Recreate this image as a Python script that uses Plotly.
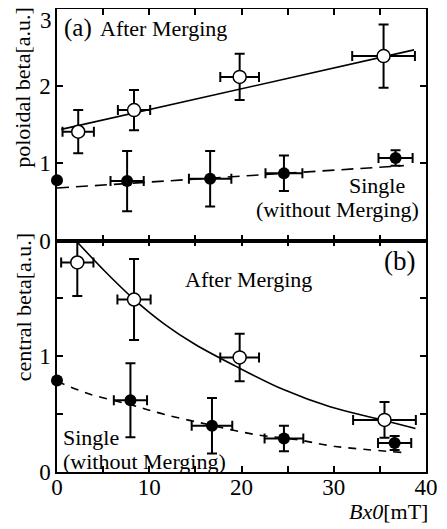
import plotly.graph_objects as go

# ---------------- Panel (a): poloidal beta ----------------
a_merge_x = [2.3, 8.35, 19.8, 35.4]
a_merge_y = [1.41, 1.69, 2.12, 2.39]
a_merge_xerr = [1.7, 1.75, 2.1, 3.4]
a_merge_yerr = [0.28, 0.26, 0.30, 0.41]

a_single_x = [0.0, 7.6, 16.6, 24.6, 36.7]
a_single_y = [0.78, 0.77, 0.80, 0.87, 1.07]
a_single_xerr = [0, 1.8, 2.3, 2.0, 1.85]
a_single_yerr = [0, 0.39, 0.36, 0.23, 0.10]

a_fit_merge_x = [0.46, 38.7]
a_fit_merge_y = [1.44, 2.47]
a_fit_single_x = [0.0, 37.6]
a_fit_single_y = [0.68, 0.97]

# ---------------- Panel (b): central beta ----------------
b_merge_x = [2.2, 8.35, 19.8, 35.5]
b_merge_y = [1.81, 1.49, 0.99, 0.45]
b_merge_xerr = [1.75, 1.8, 2.1, 3.4]
b_merge_yerr = [0.29, 0.35, 0.205, 0.155]

b_single_x = [0.0, 7.96, 16.8, 24.6, 36.6]
b_single_y = [0.79, 0.62, 0.40, 0.29, 0.25]
b_single_xerr = [0, 1.8, 2.2, 2.1, 1.8]
b_single_yerr = [0, 0.32, 0.24, 0.11, 0.06]

b_fit_merge_x = [2.03, 5.16, 8.35, 11.68, 14.95, 19.3, 24.55, 29.6, 35.05, 38.86]
b_fit_merge_y = [2.0, 1.737, 1.492, 1.276, 1.104, 0.917, 0.712, 0.563, 0.453, 0.376]
b_fit_single_x = [0, 3.35, 7.88, 11.68, 16.4, 21.47, 25.9, 30, 37.6]
b_fit_single_y = [0.784, 0.678, 0.583, 0.497, 0.41, 0.324, 0.281, 0.223, 0.168]

x_tickvals = [0, 5, 10, 15, 20, 25, 30, 35, 40]
x_ticktext = ["0", "", "10", "", "20", "", "30", "", "40"]
ya_tickvals = [0, 1, 2, 3]
ya_ticktext = ["0", "1", "2", ""]   # the top "3" is drawn as a nudged label below
ya_top_label = "3"
yb_tickvals = [0, 0.5, 1, 1.5, 2]
yb_ticktext = ["0", "", "1", "", ""]

FONT = "Liberation Serif"
BLACK = "black"

fig = go.Figure()

def err(arr, w=5):
    return dict(type="data", array=arr, visible=True, color=BLACK, thickness=2, width=w)

# fit lines
fig.add_trace(go.Scatter(x=a_fit_merge_x, y=a_fit_merge_y, mode="lines",
                         line=dict(color=BLACK, width=1.6), xaxis="x2", yaxis="y2"))
fig.add_trace(go.Scatter(x=a_fit_single_x, y=a_fit_single_y, mode="lines",
                         line=dict(color=BLACK, width=1.6, dash="12px,7px"), xaxis="x2", yaxis="y2"))
fig.add_trace(go.Scatter(x=b_fit_merge_x, y=b_fit_merge_y, mode="lines", line_shape="spline",
                         line=dict(color=BLACK, width=1.6), xaxis="x", yaxis="y"))
fig.add_trace(go.Scatter(x=b_fit_single_x, y=b_fit_single_y, mode="lines", line_shape="spline",
                         line=dict(color=BLACK, width=1.6, dash="8px,7px"), xaxis="x", yaxis="y"))

# points
fig.add_trace(go.Scatter(x=a_merge_x, y=a_merge_y, mode="markers",
                         error_x=err(a_merge_xerr), error_y=err(a_merge_yerr),
                         marker=dict(symbol="circle", size=13, color="white", line=dict(color=BLACK, width=1.5)),
                         xaxis="x2", yaxis="y2"))
fig.add_trace(go.Scatter(x=a_single_x, y=a_single_y, mode="markers",
                         error_x=err(a_single_xerr), error_y=err(a_single_yerr),
                         marker=dict(symbol="circle", size=12, color=BLACK),
                         xaxis="x2", yaxis="y2", cliponaxis=False))
fig.add_trace(go.Scatter(x=b_merge_x, y=b_merge_y, mode="markers",
                         error_x=err(b_merge_xerr), error_y=err(b_merge_yerr),
                         marker=dict(symbol="circle", size=13, color="white", line=dict(color=BLACK, width=1.5)),
                         xaxis="x", yaxis="y"))
fig.add_trace(go.Scatter(x=b_single_x, y=b_single_y, mode="markers",
                         error_x=err(b_single_xerr), error_y=err(b_single_yerr),
                         marker=dict(symbol="circle", size=12, color=BLACK),
                         xaxis="x", yaxis="y", cliponaxis=False))

axis_common = dict(showline=True, linecolor=BLACK, linewidth=1.5, mirror="ticks",
                   ticks="inside", ticklen=6, tickwidth=1.5, tickcolor=BLACK,
                   ticklabelposition="outside", automargin=False,
                   showgrid=False, zeroline=False, tickfont=dict(family=FONT, size=23, color=BLACK))

# the page body adds an 8px offset, so the figure is 8px smaller than the window
fig.update_layout(
    width=439, height=521,
    margin=dict(l=49, r=21, t=1, b=57),
    paper_bgcolor="white", plot_bgcolor="white",
    showlegend=False,
    font=dict(family=FONT, color=BLACK),
    xaxis=dict(range=[0, 40], domain=[0, 1], anchor="y", tickmode="array",
               tickvals=x_tickvals, ticktext=x_ticktext, ticklabelstandoff=-6, **axis_common),
    yaxis=dict(range=[0, 2], domain=[0, 0.5], anchor="x", tickmode="array",
               tickvals=yb_tickvals, ticktext=yb_ticktext, **axis_common),
    xaxis2=dict(range=[0, 40], domain=[0, 1], anchor="y2", tickmode="array",
                tickvals=x_tickvals, showticklabels=False, **axis_common),
    yaxis2=dict(range=[0, 3], domain=[0.5, 1], anchor="x2", tickmode="array",
                tickvals=ya_tickvals, ticktext=ya_ticktext, **axis_common),
)

ann = []
def A(text, x, y, xanchor, size=22, xref="x", yref="y", **kw):
    ann.append(dict(text=text, x=x, y=y, xref=xref, yref=yref, xanchor=xanchor, yanchor="middle",
                    showarrow=False, borderpad=0, font=dict(family=FONT, size=size, color=BLACK), **kw))

# panel (a)
A("(a)", 0.6, 2.76, "left", size=25, xref="x2", yref="y2")
A("After Merging", 4.5, 2.75, "left", size=22, xref="x2", yref="y2")
A("Single", 37.8, 0.71, "right", size=22, xref="x2", yref="y2")
A("(without Merging)", 39.3, 0.40, "right", size=22, xref="x2", yref="y2")
# panel (b)
A("(b)", 38.9, 1.82, "right", size=27)
A("After Merging", 13.8, 1.667, "left", size=22)
A("Single", 0.5, 0.30, "left", size=22)
A("(without Merging)", 0.5, 0.09, "left", size=22)
# top tick label of panel (a), nudged down like the reference
A(ya_top_label, -0.012, 0.975, "right", size=23, xref="paper", yref="paper")
# axis titles
A("poloidal beta[a.u.]", -0.092, 0.83, "center", size=22, xref="paper", yref="paper", textangle=-90)
A("central beta[a.u.]", -0.092, 0.356, "center", size=22, xref="paper", yref="paper", textangle=-90)
A("<i>Bx0</i>[mT]", 1.008, -0.086, "right", size=22, xref="paper", yref="paper")

fig.update_layout(annotations=ann)

# thick divider between the panels
fig.add_shape(type="line", xref="paper", yref="paper", x0=0, x1=1, y0=0.5, y1=0.5,
              line=dict(color=BLACK, width=3))

fig.write_html("out.html")
